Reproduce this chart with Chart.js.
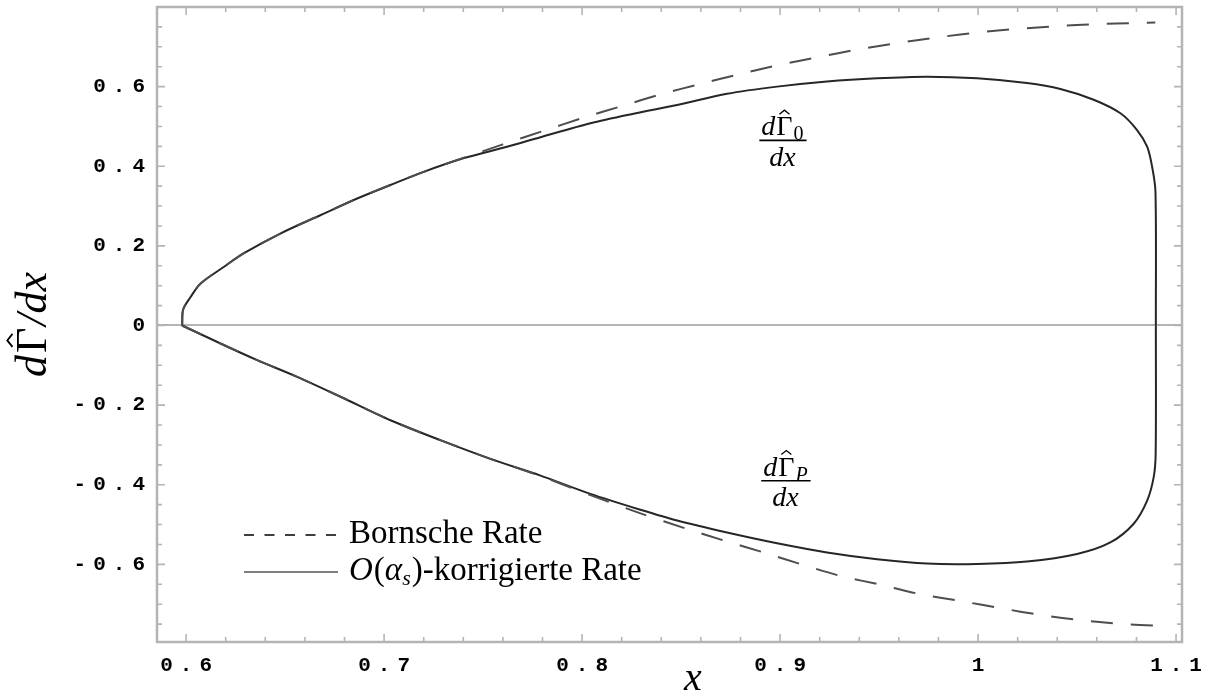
<!DOCTYPE html>
<html><head><meta charset="utf-8">
<script src="https://cdn.jsdelivr.net/npm/chart.js@4.4.0/dist/chart.umd.min.js"></script>
<style>html,body{margin:0;padding:0;background:#fff}canvas{display:block}</style>
</head><body>
<canvas id="c" width="1210" height="698"></canvas>
<script>
// ---- data ----
const upperBornX = [0.598, 0.5985, 0.6022, 0.6072, 0.619, 0.629, 0.6476, 0.6678, 0.6864, 0.7032, 0.720, 0.740, 0.760, 0.780, 0.800, 0.820, 0.840, 0.860, 0.880, 0.900, 0.920, 0.940, 0.960, 0.980, 1.000, 1.020, 1.040, 1.060, 1.080, 1.0895];
const upperBornY = [0, 0.040, 0.071, 0.105, 0.147, 0.181, 0.231, 0.277, 0.319, 0.353, 0.386, 0.421, 0.455, 0.488, 0.521, 0.551, 0.581, 0.607, 0.632, 0.655, 0.675, 0.694, 0.710, 0.724, 0.736, 0.745, 0.752, 0.757, 0.760, 0.761];

const upperCorrX = [0.598, 0.5985, 0.6022, 0.6072, 0.619, 0.629, 0.6476, 0.6678, 0.6864, 0.7032, 0.720, 0.740, 0.7621, 0.779, 0.8042, 0.826, 0.848, 0.8732, 0.8985, 0.9237, 0.949, 0.9742, 0.9995, 1.0247, 1.0416, 1.0584, 1.0719, 1.0803, 1.0854, 1.0879, 1.0896, 1.0898];
const upperCorrY = [0, 0.040, 0.071, 0.105, 0.147, 0.181, 0.231, 0.277, 0.319, 0.353, 0.386, 0.420, 0.449, 0.473, 0.508, 0.532, 0.554, 0.582, 0.600, 0.613, 0.621, 0.625, 0.621, 0.609, 0.594, 0.567, 0.533, 0.491, 0.449, 0.399, 0.336, 0];

const lowerBornX = [0.598, 0.619, 0.6359, 0.6561, 0.678, 0.7032, 0.7284, 0.7537, 0.779, 0.8042, 0.8295, 0.853, 0.8715, 0.8917, 0.9102, 0.9305, 0.9515, 0.9709, 0.991, 1.0113, 1.0315, 1.0517, 1.0736, 1.0896];
const lowerBornY = [0, -0.049, -0.087, -0.129, -0.179, -0.238, -0.288, -0.335, -0.378, -0.426, -0.472, -0.511, -0.540, -0.570, -0.599, -0.629, -0.652, -0.675, -0.692, -0.710, -0.727, -0.740, -0.750, -0.754];

const lowerCorrX = [0.598, 0.619, 0.6359, 0.6561, 0.678, 0.7032, 0.7284, 0.7537, 0.779, 0.8042, 0.8295, 0.848, 0.8732, 0.8985, 0.9237, 0.949, 0.9742, 0.9995, 1.0247, 1.05, 1.0668, 1.0786, 1.0854, 1.0887, 1.0897, 1.0898];
const lowerCorrY = [0, -0.049, -0.087, -0.129, -0.179, -0.238, -0.288, -0.335, -0.377, -0.423, -0.463, -0.490, -0.520, -0.547, -0.570, -0.587, -0.598, -0.599, -0.593, -0.574, -0.545, -0.498, -0.440, -0.381, -0.322, 0];

const xMajorTicks = [0.6, 0.7, 0.8, 0.9, 1.0, 1.1];
const xTickLabels = ['0.6', '0.7', '0.8', '0.9', '1', '1.1'];
const yMajorTicks = [-0.6, -0.4, -0.2, 0, 0.2, 0.4, 0.6];
const yTickLabels = ['-0.6', '-0.4', '-0.2', '0', '0.2', '0.4', '0.6'];
const seriesLabels = ['Bornsche Rate', '𝒪(αs)-korrigierte Rate'];
const curveLabels = ['dΓ̂0/dx', 'dΓ̂P/dx'];

// ---- minor tick positions ----
const xTickVals = []; for (let i = 0; i <= 25; i++) xTickVals.push(Math.round((0.6 + 0.02 * i) * 1000) / 1000);
const yTickVals = []; for (let i = -15; i <= 15; i++) yTickVals.push(Math.round(0.05 * i * 1000) / 1000);

const GRAY = '#b4b4b4';
const SERIF = '"Liberation Serif", "Times New Roman", serif';
const spaced = s => s.split('').join('\u2004');
const findLabel = (v, majors, labels) => {
  for (let i = 0; i < majors.length; i++) if (Math.abs(majors[i] - v) < 1e-6) return spaced(labels[i]);
  return '';
};
const isMajor = (v, majors) => majors.some(m => Math.abs(m - v) < 1e-6);
const pts = (xs, ys) => xs.map((x, i) => ({ x: x, y: ys[i] }));

const framePlugin = {
  id: 'frame',
  beforeDatasetsDraw(chart) {
    const { ctx, chartArea: a, scales: { x, y } } = chart;
    ctx.save();
    ctx.strokeStyle = GRAY;
    ctx.lineWidth = 1.6;
    xTickVals.forEach(v => {
      const p = x.getPixelForValue(v);
      if (p < a.left || p > a.right) return;
      const L = isMajor(v, xMajorTicks) ? 8 : 5;
      ctx.beginPath();
      ctx.moveTo(p, a.bottom); ctx.lineTo(p, a.bottom - L);
      ctx.moveTo(p, a.top); ctx.lineTo(p, a.top + L);
      ctx.stroke();
    });
    yTickVals.forEach(v => {
      const p = y.getPixelForValue(v);
      if (p < a.top + 2 || p > a.bottom - 2) return;
      const L = isMajor(v, yMajorTicks) ? 8 : 5;
      ctx.beginPath();
      ctx.moveTo(a.left, p); ctx.lineTo(a.left + L, p);
      ctx.moveTo(a.right, p); ctx.lineTo(a.right - L, p);
      ctx.stroke();
    });
    ctx.lineWidth = 2.5;
    ctx.strokeRect(a.left, a.top, a.right - a.left, a.bottom - a.top);
    ctx.restore();
  }
};

function drawHat(ctx, cx, yTop, w) {
  ctx.beginPath();
  ctx.moveTo(cx - w, yTop + w * 0.8);
  ctx.lineTo(cx, yTop);
  ctx.lineTo(cx + w, yTop + w * 0.8);
  ctx.stroke();
}

function drawFraction(ctx, cx, barY, sub, subItalic, size) {
  ctx.save();
  ctx.fillStyle = '#000'; ctx.strokeStyle = '#000';
  ctx.textBaseline = 'alphabetic'; ctx.textAlign = 'left';
  const fI = 'italic ' + size + 'px ' + SERIF;
  const fU = size + 'px ' + SERIF;
  const fS = (subItalic ? 'italic ' : '') + Math.round(size * 0.7) + 'px ' + SERIF;
  ctx.font = fI; const wd = ctx.measureText('d').width;
  ctx.font = fU; const wG = ctx.measureText('Γ').width;
  ctx.font = fS; const ws = ctx.measureText(sub).width;
  const total = wd + wG + ws + 2;
  const x0 = cx - total / 2;
  const nb = barY - 5;
  ctx.font = fI; ctx.fillText('d', x0, nb);
  ctx.font = fU; ctx.fillText('Γ', x0 + wd + 1, nb);
  ctx.lineWidth = 1.3;
  drawHat(ctx, x0 + wd + 1 + wG / 2, nb - size * 0.9, size * 0.18);
  ctx.font = fS; ctx.fillText(sub, x0 + wd + wG + 2, nb + size * 0.18);
  ctx.lineWidth = 1.7;
  ctx.beginPath(); ctx.moveTo(x0 - 2, barY); ctx.lineTo(x0 + total + 3, barY); ctx.stroke();
  ctx.font = fI; ctx.textAlign = 'center';
  ctx.fillText('dx', cx, barY + size * 0.9);
  ctx.restore();
}

const annotPlugin = {
  id: 'annot',
  afterDatasetsDraw(chart) {
    const { ctx, chartArea: a, scales: { x, y } } = chart;
    // curve labels, anchored in data coordinates
    drawFraction(ctx, x.getPixelForValue(0.9012), y.getPixelForValue(0.465), '0', false, 28);
    drawFraction(ctx, x.getPixelForValue(0.9027), y.getPixelForValue(-0.390), 'P', true, 28);

    // legend
    ctx.save();
    ctx.strokeStyle = '#000'; ctx.fillStyle = '#000';
    const lx0 = a.left + 87, lx1 = a.left + 179, tx = a.left + 192;
    const r1 = a.top + 528, r2 = a.top + 565;
    ctx.lineWidth = 1.5;
    ctx.setLineDash([10, 10.5]);
    ctx.beginPath(); ctx.moveTo(lx0, r1); ctx.lineTo(lx1, r1); ctx.stroke();
    ctx.setLineDash([]);
    ctx.lineWidth = 1.2;
    ctx.beginPath(); ctx.moveTo(lx0, r2); ctx.lineTo(lx1 + 2, r2); ctx.stroke();
    ctx.textBaseline = 'alphabetic'; ctx.textAlign = 'left';
    ctx.font = '33px ' + SERIF;
    ctx.fillText(seriesLabels[0], tx, r1 + 8);
    let px = tx;
    const b2 = r2 + 8;
    ctx.font = 'italic 33px ' + SERIF; ctx.fillText('O', px, b2); px += ctx.measureText('O').width + 1;
    ctx.font = '33px ' + SERIF; ctx.fillText('(', px, b2); px += ctx.measureText('(').width;
    ctx.font = 'italic 33px ' + SERIF; ctx.fillText('α', px, b2); px += ctx.measureText('α').width;
    ctx.font = 'italic 22px ' + SERIF; ctx.fillText('s', px, b2 + 5); px += ctx.measureText('s').width + 1;
    ctx.font = '33px ' + SERIF; ctx.fillText(')-korrigierte Rate', px, b2);

    // axis titles
    ctx.font = 'italic 40px ' + SERIF; ctx.textAlign = 'center';
    ctx.fillText('x', x.getPixelForValue(0.856), 690);
    ctx.translate(46, (a.top + a.bottom) / 2);
    ctx.rotate(-Math.PI / 2);
    ctx.textAlign = 'left';
    const TS = 44;
    ctx.font = 'italic ' + TS + 'px ' + SERIF; const w1 = ctx.measureText('d').width;
    ctx.font = TS + 'px ' + SERIF; const w2 = ctx.measureText('Γ').width;
    ctx.font = 'italic ' + TS + 'px ' + SERIF; const w3 = ctx.measureText('/dx').width;
    let sx = -(w1 + w2 + w3 + 4) / 2;
    ctx.fillText('d', sx, 0); sx += w1 + 2;
    ctx.font = TS + 'px ' + SERIF; ctx.fillText('Γ', sx, 0);
    ctx.lineWidth = 1.8; drawHat(ctx, sx + w2 / 2, -TS * 0.88, 6.5);
    sx += w2 + 2;
    ctx.font = 'italic ' + TS + 'px ' + SERIF; ctx.fillText('/dx', sx, 0);
    ctx.restore();
  }
};

const solid = { borderColor: '#262626', borderWidth: 2, pointRadius: 0, showLine: true, tension: 0.3, fill: false };
const dashed = { borderColor: '#4e4e4e', borderWidth: 2, borderDash: [22, 18], pointRadius: 0, showLine: true, tension: 0.3, fill: false };
const tickFont = { family: '"Liberation Mono", "Courier New", monospace', size: 21, weight: 'bold' };

new Chart(document.getElementById('c'), {
  type: 'scatter',
  data: {
    datasets: [
      Object.assign({ label: seriesLabels[0], data: pts(upperBornX, upperBornY) }, dashed),
      Object.assign({ label: seriesLabels[0], data: pts(lowerBornX, lowerBornY) }, dashed),
      Object.assign({ label: seriesLabels[1], data: pts(upperCorrX, upperCorrY) }, solid),
      Object.assign({ label: seriesLabels[1], data: pts(lowerCorrX, lowerCorrY) }, solid)
    ]
  },
  options: {
    responsive: false, animation: false, devicePixelRatio: 1,
    layout: { padding: { top: 7, right: 28, left: 0, bottom: 0 } },
    plugins: { legend: { display: false }, tooltip: { enabled: false }, title: { display: false } },
    scales: {
      x: {
        type: 'linear', min: 0.5853, max: 1.103,
        afterBuildTicks: ax => { ax.ticks = xTickVals.map(v => ({ value: v })); },
        afterFit: ax => { ax.height = 56; ax.paddingLeft = 0; ax.paddingRight = 0; },
        grid: { display: false, drawTicks: false },
        border: { display: false },
        ticks: { autoSkip: false, maxRotation: 0, padding: 11, color: '#000', font: tickFont,
          callback: v => findLabel(v, xMajorTicks, xTickLabels) }
      },
      y: {
        type: 'linear', min: -0.795, max: 0.80,
        afterBuildTicks: ax => { ax.ticks = yTickVals.map(v => ({ value: v })); },
        afterFit: ax => { ax.width = 157; ax.paddingTop = 0; ax.paddingBottom = 0; },
        grid: { display: true, drawTicks: false, lineWidth: 2,
          color: c => (c.tick && Math.abs(c.tick.value) < 1e-9) ? GRAY : 'rgba(0,0,0,0)' },
        border: { display: false },
        ticks: { autoSkip: false, padding: 12, color: '#000', font: tickFont,
          callback: v => findLabel(v, yMajorTicks, yTickLabels) }
      }
    }
  },
  plugins: [framePlugin, annotPlugin]
});
</script>
</body></html>
